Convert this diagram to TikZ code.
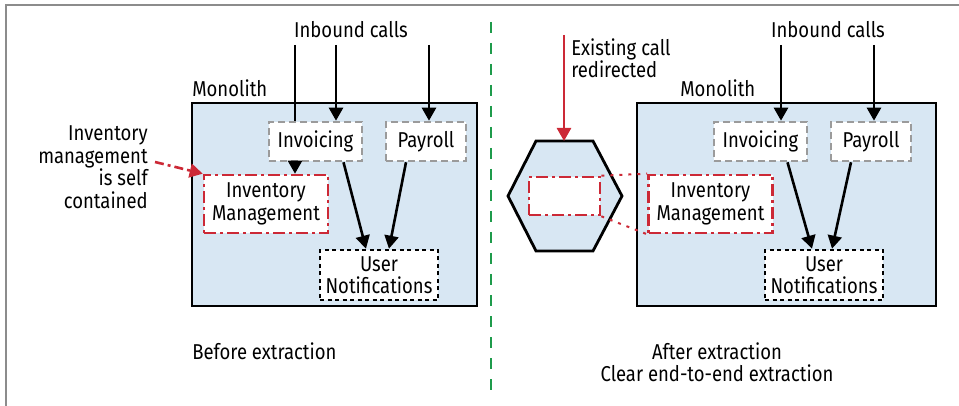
\documentclass[tikz,border=0pt]{standalone}
\usepackage{fontspec}
\setmainfont{Fira Sans}[FakeStretch=0.86]
\usetikzlibrary{arrows.meta,positioning}
\definecolor{monofill}{HTML}{D8E7F3}
\definecolor{extred}{HTML}{CC2936}
\definecolor{divgreen}{HTML}{1E9B4B}
\definecolor{boxgray}{HTML}{9B9B9B}
\tikzset{
  every picture/.style={line width=2.6pt},
  lbl/.style={font=\fontsize{21.5}{22.5}\selectfont, inner sep=0pt},
  monolith/.style={draw=black, fill=monofill, line width=2.8pt, minimum width=285pt, minimum height=203pt, inner sep=0pt},
  svc/.style={lbl, draw=boxgray, fill=white, dash pattern=on 7pt off 4pt, align=center, minimum height=39pt},
  invbox/.style={lbl, draw=extred, fill=white, dash pattern=on 12pt off 4pt on 3pt off 4pt, align=center, minimum width=124pt, minimum height=58pt},
  notebox/.style={lbl, draw=black, fill=white, dash pattern=on 4pt off 3.5pt, align=center, minimum width=118pt, minimum height=50pt},
  call/.style={-{Triangle[length=13pt,width=14pt]}},
  redcall/.style={draw=extred, -{Triangle[length=13pt,width=14pt]}},
}

\begin{document}
\begin{tikzpicture}[x=1pt,y=-1pt]
    \useasboundingbox (0,0) rectangle (959,406);
    \draw[line width=1.8pt, black!45] (959,5) -- (6,5) -- (6,406);
    \draw[divgreen, line width=2.8pt, dash pattern=on 11pt off 10pt] (491,22) -- (491,396);

    % before extraction
    \node[monolith] (mono1) at (334.5,204.5) {};
    \node[lbl, anchor=base west] (monolbl1) at (191,97) {Monolith};
    \node[lbl, anchor=base] (inbound1) at (351,38) {Inbound calls};
    \node[svc, minimum width=93pt] (inv1) at (315.5,141.5) {Invoicing};
    \node[svc, minimum width=80pt] (pay1) at (426,141.5) {Payroll};
    \node[invbox] (im1) at (266,204) {Inventory\\Management};
    \node[notebox] (un1) at (379,275) {User\\Notifications};
    \coordinate (c1a) at (295,45);
    \coordinate (c1b) at (336,45);
    \coordinate (c1c) at (429,45);
    \draw (c1a) -- (c1a |- inv1.north);
    \draw[call] (c1a |- inv1.south) -- (c1a |- im1.north);
    \draw[call] (c1b) -- (c1b |- inv1.north);
    \draw[call] (c1c) -- (c1c |- pay1.north);
    \draw[call] ([xshift=28pt]inv1.south) -- ([xshift=-13pt]un1.north);
    \draw[call] ([xshift=-20pt]pay1.south) -- ([xshift=10pt]un1.north);
    \node[lbl, align=right, anchor=east] (selfnote) at (149,167) {Inventory\\management\\is self\\contained};
    \coordinate (selftail) at (155,162);
    \draw[redcall, dash pattern=on 9pt off 4pt on 3pt off 4pt] (selftail) -- (im1.north west);
    \node[lbl, anchor=west] (before) at (191,351) {Before extraction};

    % after extraction
    \node[monolith, minimum width=299pt] (mono2) at (786.5,204.5) {};
    \node[lbl, anchor=base west] (monolbl2) at (679,97) {Monolith};
    \node[lbl, anchor=base] (inbound2) at (828,38) {Inbound calls};
    \node[svc, minimum width=93pt] (inv2) at (760.5,141.5) {Invoicing};
    \node[svc, minimum width=80pt] (pay2) at (871,141.5) {Payroll};
    \node[invbox] (im2) at (710.5,204) {Inventory\\Management};
    \node[notebox] (un2) at (824,275) {User\\Notifications};
    \coordinate (c2b) at (781,45);
    \coordinate (c2c) at (874,45);
    \draw[call] (c2b) -- (c2b |- inv2.north);
    \draw[call] (c2c) -- (c2c |- pay2.north);
    \draw[call] ([xshift=27pt]inv2.south) -- ([xshift=-12pt]un2.north);
    \draw[call] ([xshift=-20pt]pay2.south) -- ([xshift=8pt]un2.north);

    % extracted service
    \draw[fill=monofill, line width=2.8pt] (508,196) -- (536,141) -- (593,141) -- (622,196) -- (593,251) -- (536,251) -- cycle;
    \coordinate (hextop) at (564,141);
    \node[invbox, minimum width=71pt, minimum height=38pt] (ghost) at (564.5,196) {};
    \draw[extred, line width=2pt, dash pattern=on 3pt off 6pt] (ghost.north east) -- (im2.north west);
    \draw[extred, line width=2pt, dash pattern=on 3pt off 6pt] (ghost.south east) -- (im2.south west);
    \coordinate (redirect) at (564,35);
    \draw[redcall] (redirect) -- (hextop);
    \node[lbl, align=left, anchor=west] (redirlbl) at (570,58) {Existing call\\redirected};
    \node[lbl, align=center] (after) at (717,362) {After extraction\\Clear end-to-end extraction};
\end{tikzpicture}
\end{document}
